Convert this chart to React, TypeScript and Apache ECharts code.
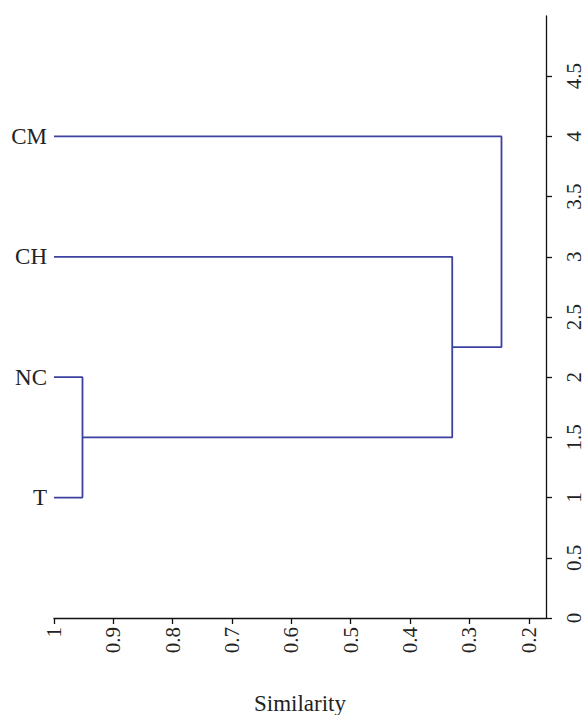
import React, { useEffect, useRef } from "react";
import * as echarts from "echarts";

// Leaves (bottom to top) and their positions on the y axis
const leafNames = ["T", "NC", "CH", "CM"];
const leafPositions = [1, 2, 3, 4];

// Linkage: child node ids (1..4 are leaves, 5.. clusters) and merge similarity
const linkChildA = [1, 5, 6];
const linkChildB = [2, 3, 4];
const linkSimilarity = [0.952, 0.329, 0.246];

// Axis tick labels
const xTickValues = [1, 0.9, 0.8, 0.7, 0.6, 0.5, 0.4, 0.3, 0.2];
const yTickValues = [0, 0.5, 1, 1.5, 2, 2.5, 3, 3.5, 4, 4.5];

const FONT = "'Liberation Serif', 'Times New Roman', serif";
const LINE_COLOR = "#3d42a0";

function buildLinks() {
  const nodeY: Record<number, number> = {};
  const nodeX: Record<number, number> = {};
  leafPositions.forEach((p, i) => {
    nodeY[i + 1] = p;
    nodeX[i + 1] = 1;
  });
  const links: number[][][] = [];
  linkSimilarity.forEach((s, i) => {
    const a = linkChildA[i];
    const b = linkChildB[i];
    links.push([
      [nodeX[a], nodeY[a]],
      [s, nodeY[a]],
      [s, nodeY[b]],
      [nodeX[b], nodeY[b]],
    ]);
    const id = leafPositions.length + i + 1;
    nodeY[id] = (nodeY[a] + nodeY[b]) / 2;
    nodeX[id] = s;
  });
  return links;
}

export default function App() {
  const ref = useRef<HTMLDivElement>(null);
  useEffect(() => {
    if (!ref.current) return;
    const chart = echarts.init(ref.current, null, { renderer: "svg" });
    const links = buildLinks();
    chart.setOption({
      animation: false,
      backgroundColor: "#ffffff",
      grid: {
        left: 54,
        right: 38,
        top: 16,
        bottom: 97,
        containLabel: false,
        outerBoundsMode: "none",
      },
      xAxis: {
        type: "value",
        inverse: true,
        min: 0.171,
        max: 1,
        name: "Similarity",
        nameLocation: "middle",
        nameGap: 74,
        nameTextStyle: { fontFamily: FONT, fontSize: 23, color: "#222" },
        axisLine: { show: true, onZero: false, lineStyle: { color: "#111", width: 1.3 } },
        axisTick: { show: true, length: 6, customValues: xTickValues, lineStyle: { color: "#111", width: 1.3 } },
        axisLabel: {
          customValues: xTickValues,
          rotate: 90,
          margin: 9,
          fontFamily: FONT,
          fontSize: 21,
          color: "#222",
        },
        splitLine: { show: false },
      },
      yAxis: [
        {
          type: "value",
          position: "right",
          min: 0,
          max: 5,
          axisLine: { show: true, onZero: false, lineStyle: { color: "#111", width: 1.3 } },
          axisTick: { show: true, length: 6, customValues: yTickValues, lineStyle: { color: "#111", width: 1.3 } },
          axisLabel: {
            customValues: yTickValues,
            rotate: 90,
            margin: 17,
            fontFamily: FONT,
            fontSize: 21,
            color: "#222",
          },
          splitLine: { show: false },
        },
        {
          type: "value",
          position: "left",
          min: 0,
          max: 5,
          axisLine: { show: false },
          axisTick: { show: false },
          axisLabel: {
            customValues: leafPositions,
            formatter: (v: number) => leafNames[leafPositions.indexOf(v)] ?? "",
            margin: 7,
            fontFamily: FONT,
            fontSize: 23,
            color: "#222",
          },
          splitLine: { show: false },
        },
      ],
      series: links.map((pts) => ({
        type: "line",
        data: pts,
        showSymbol: false,
        symbol: "none",
        silent: true,
        lineStyle: { color: LINE_COLOR, width: 1.8 },
      })),
    });
    return () => chart.dispose();
  }, []);
  return (
    <div
      ref={ref}
      style={{ position: "absolute", left: 0, top: 0, width: 584, height: 715 }}
    />
  );
}
